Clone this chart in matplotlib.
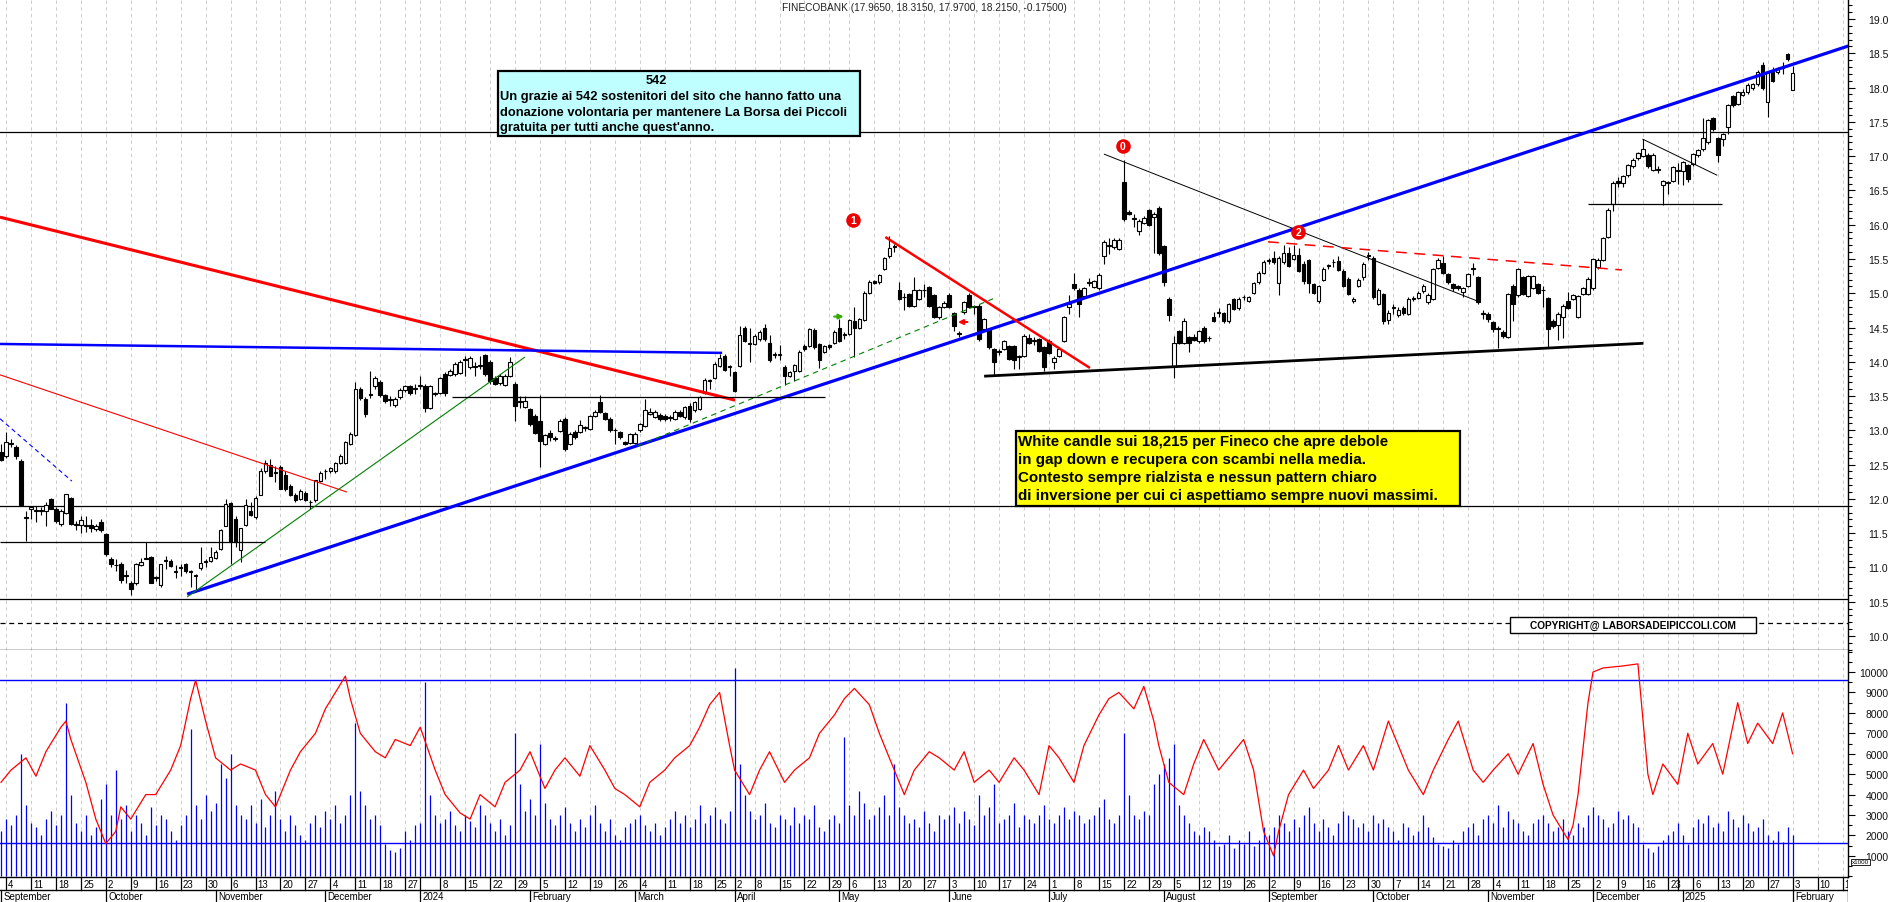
import matplotlib

matplotlib.use("Agg")
import matplotlib.pyplot as plt
import numpy as np
import pandas as pd
from matplotlib.patches import Rectangle
from matplotlib.ticker import FixedLocator, MultipleLocator

plt.rcParams["font.family"] = ["Liberation Sans", "DejaVu Sans"]

W, H = 1890, 903

TITLE = "FINECOBANK (17.9650, 18.3150, 17.9700, 18.2150, -0.17500)"
FIRST_DAY = "2023-09-01"
LAST_AXIS_DAY = "2025-02-21"
HOLIDAYS = [
    "2023-12-25", "2023-12-26", "2024-01-01", "2024-03-29", "2024-04-01",
    "2024-05-01", "2024-08-15", "2024-12-24", "2024-12-25", "2024-12-26",
    "2024-12-31", "2025-01-01",
]

# daily candles, first one is 1 Sep 2023 (x = -1), Sep 4 2023 is x = 0
OPENS = [
    12.68, 12.63, 12.80, 12.75, 12.56, 11.72, 11.85, 11.83, 11.82, 11.83,
    12.00, 11.85, 11.63, 11.80, 12.01, 11.62, 11.62, 11.61, 11.62, 11.56,
    11.67, 11.49, 11.12, 11.03, 11.05, 10.88, 10.78, 10.78, 11.04, 11.13,
    11.15, 10.85, 10.75, 11.10, 11.09, 10.93, 10.99, 11.05, 10.93, 10.87,
    10.99, 11.08, 11.10, 11.14, 11.27, 11.61, 11.94, 11.71, 11.26, 11.62,
    11.83, 11.73, 12.06, 12.40, 12.49, 12.38, 12.46, 12.35, 12.19, 12.05,
    12.00, 12.09, 11.95, 11.98, 12.26, 12.40, 12.40, 12.40, 12.53, 12.53,
    12.80, 12.93, 13.61, 13.46, 13.52, 13.64, 13.71, 13.51, 13.44, 13.37,
    13.48, 13.59, 13.64, 13.60, 13.65, 13.65, 13.33, 13.53, 13.55,
    13.82, 13.81, 13.82, 13.84, 14.03, 13.93, 13.92, 13.94, 14.10, 14.00,
    13.77, 13.69, 13.66, 13.80, 13.68, 13.41, 13.34, 13.31, 13.21, 13.14,
    12.80, 12.96, 12.88, 12.99, 13.17, 12.80, 12.98, 12.98, 13.03, 13.02,
    13.21, 13.41, 13.25, 13.17, 13.00, 12.97, 12.83, 12.82, 12.82, 13.00,
    13.07, 13.24, 13.20, 13.23, 13.21, 13.18, 13.17, 13.27, 13.19, 13.35,
    13.29, 13.31, 13.55, 13.72, 13.77, 13.94, 14.09, 13.92, 13.85, 13.94,
    14.50, 14.26, 14.26, 14.33, 14.50, 14.27, 14.10, 14.10, 13.92, 13.80,
    13.86, 13.87, 14.23, 14.23, 14.47, 14.26, 14.15, 14.24, 14.28, 14.50,
    14.39, 14.41, 14.60, 14.50, 14.61, 15.01, 15.18, 15.16, 15.36, 15.54,
    15.67, 15.05,
    14.94, 14.99, 14.82, 14.92, 15.04, 15.09, 14.97, 14.65, 14.80, 14.98,
    14.71, 14.41, 14.72, 14.98, 14.80, 14.82, 14.48, 14.48, 14.18, 14.15,
    14.19, 14.23, 14.23, 14.07, 14.09, 14.34, 14.30, 14.33, 14.21, 14.31,
    14.00, 14.09, 14.31, 14.80, 15.14, 15.05, 14.96, 15.15, 15.09, 15.07,
    15.55, 15.69, 15.67, 15.65, 16.62, 16.19, 16.09, 15.91, 16.03, 16.21,
    16.11, 16.25, 15.69, 14.92, 13.94, 14.45, 14.28, 14.36, 14.36, 14.30,
    14.50, 14.34, 14.66, 14.71, 14.71, 14.59, 14.91, 14.78, 14.94, 14.89,
    15.01, 15.16, 15.30, 15.47, 15.52, 15.15, 15.45, 15.59, 15.50, 15.56,
    15.43, 15.48, 15.13, 14.88, 15.20, 15.40, 15.45, 15.47, 15.33, 15.21,
    14.88, 15.11,
    15.23, 15.55, 15.52, 14.85, 14.99, 14.61, 14.79, 14.68, 14.79, 14.70,
    14.92, 14.93, 15.03, 14.87, 14.92, 15.37, 15.44, 15.28, 15.13, 15.10,
    15.02, 15.11, 15.35, 15.23, 14.70, 14.70, 14.58, 14.48, 14.44, 14.36,
    15.11, 14.97, 15.23, 14.96, 15.08, 15.13, 15.04, 14.93, 14.60, 14.54,
    14.66, 14.89, 14.92, 14.66, 14.99, 14.99, 15.07, 15.38, 15.49, 15.82,
    16.30, 16.64, 16.61, 16.72, 16.85, 16.97, 17.00, 17.02, 16.80, 16.80,
    16.58, 16.61, 16.64, 16.79, 16.79, 16.87, 16.88, 17.01, 17.10, 17.20,
    17.55, 17.26, 17.25, 17.43, 17.87, 17.76, 17.89, 17.93, 17.99, 18.05,
    18.33, 17.79, 18.23, 18.22, 18.29, 18.49, 17.965,
]
HIGHS = [
    12.80, 12.97, 12.87, 12.78, 12.58, 11.83, 11.90, 11.90, 11.88, 11.95,
    12.02, 11.88, 11.85, 12.07, 12.03, 11.68, 11.75, 11.75, 11.70, 11.64,
    11.70, 11.50, 11.15, 11.13, 11.08, 10.97, 10.80, 11.06, 11.14, 11.37,
    11.17, 10.88, 11.05, 11.17, 11.12, 11.03, 11.05, 11.07, 10.96, 10.90,
    11.30, 11.13, 11.30, 11.25, 11.56, 12.00, 11.96, 11.75, 11.57, 12.00,
    11.95, 12.04, 12.45, 12.57, 12.58, 12.48, 12.50, 12.40, 12.22, 12.08,
    12.14, 12.12, 11.98, 12.28, 12.40, 12.44, 12.47, 12.54, 12.66, 12.85,
    12.97, 13.70, 13.63, 13.48, 13.87, 13.79, 13.73, 13.53, 13.50, 13.48,
    13.62, 13.66, 13.66, 13.68, 13.80, 13.67, 13.66, 13.56, 13.78,
    13.85, 13.90, 13.99, 14.02, 14.09, 14.09, 13.99, 14.09, 14.12, 14.02,
    13.80, 13.82, 13.82, 14.07, 13.70, 13.50, 13.50, 13.33, 13.24, 13.51,
    12.95, 13.00, 12.92, 13.16, 13.19, 12.97, 13.00, 13.15, 13.06, 13.23,
    13.29, 13.51, 13.27, 13.19, 13.03, 12.99, 12.85, 12.96, 12.97, 13.11,
    13.45, 13.32, 13.30, 13.26, 13.24, 13.22, 13.29, 13.30, 13.36, 13.40,
    13.43, 13.50, 13.77, 13.75, 13.99, 14.12, 14.11, 13.95, 13.87, 14.52,
    14.52, 14.50, 14.40, 14.46, 14.55, 14.39, 14.14, 14.24, 13.95, 13.87,
    13.97, 14.17, 14.26, 14.50, 14.49, 14.28, 14.25, 14.26, 14.46, 14.62,
    14.43, 14.63, 14.80, 14.64, 15.03, 15.19, 15.20, 15.28, 15.53, 15.84,
    15.72, 15.17,
    15.00, 15.01, 15.23, 15.06, 15.14, 15.11, 14.99, 14.82, 14.88, 15.00,
    14.73, 14.45, 14.89, 15.00, 14.83, 14.84, 14.64, 14.50, 14.20, 14.19,
    14.32, 14.25, 14.25, 14.10, 14.40, 14.40, 14.36, 14.35, 14.23, 14.33,
    14.08, 14.21, 14.67, 14.97, 15.29, 15.07, 15.09, 15.22, 15.20, 15.29,
    15.77, 15.81, 15.80, 15.80, 16.94, 16.22, 16.15, 16.08, 16.12, 16.23,
    16.18, 16.27, 15.71, 14.94, 14.37, 14.47, 14.64, 14.38, 14.40, 14.47,
    14.52, 14.38, 14.72, 14.78, 14.73, 14.86, 14.93, 14.94, 14.98, 14.96,
    15.17, 15.32, 15.48, 15.52, 15.62, 15.54, 15.71, 15.68, 15.71, 15.66,
    15.47, 15.50, 15.15, 15.12, 15.38, 15.42, 15.50, 15.55, 15.35, 15.23,
    14.94, 15.22,
    15.45, 15.60, 15.55, 15.07, 15.01, 14.75, 14.85, 14.80, 14.82, 14.94,
    14.96, 15.03, 15.13, 15.00, 15.37, 15.51, 15.55, 15.30, 15.15, 15.12,
    15.09, 15.30, 15.44, 15.25, 14.76, 14.72, 14.60, 14.52, 14.46, 15.01,
    15.13, 15.37, 15.25, 15.27, 15.27, 15.15, 15.10, 14.95, 14.62, 14.72,
    14.84, 15.02, 14.99, 14.98, 15.09, 15.23, 15.52, 15.51, 15.82, 16.24,
    16.63, 16.70, 16.73, 16.89, 16.97, 17.06, 17.25, 17.04, 17.04, 16.85,
    16.65, 16.64, 16.86, 16.90, 16.93, 16.89, 17.05, 17.11, 17.55, 17.54,
    17.57, 17.28, 17.34, 17.76, 17.89, 17.95, 17.98, 18.06, 18.07, 18.25,
    18.37, 18.24, 18.30, 18.30, 18.38, 18.51, 18.315,
]
LOWS = [
    12.55, 12.60, 12.75, 12.58, 11.91, 11.39, 11.71, 11.67, 11.76, 11.60,
    11.85, 11.65, 11.60, 11.78, 11.62, 11.54, 11.50, 11.52, 11.52, 11.53,
    11.52, 11.17, 11.00, 10.95, 10.78, 10.78, 10.60, 10.75, 11.02, 11.12,
    10.78, 10.80, 10.72, 10.98, 11.00, 10.85, 10.88, 10.92, 10.71, 10.66,
    10.97, 11.00, 11.08, 11.12, 11.25, 11.60, 11.05, 11.30, 11.08, 11.60,
    11.75, 11.71, 12.05, 12.38, 12.33, 12.25, 12.14, 12.12, 12.04, 11.96,
    11.98, 11.97, 11.85, 11.96, 12.24, 12.29, 12.38, 12.38, 12.51, 12.51,
    12.78, 12.92, 13.44, 13.20, 13.47, 13.60, 13.49, 13.40, 13.36, 13.34,
    13.46, 13.56, 13.52, 13.53, 13.60, 13.27, 13.31, 13.50, 13.53,
    13.50, 13.79, 13.80, 13.82, 13.80, 13.90, 13.80, 13.89, 13.80, 13.68,
    13.66, 13.66, 13.64, 13.78, 13.14, 13.33, 13.33, 13.07, 12.94, 12.46,
    12.78, 12.85, 12.84, 12.97, 12.70, 12.78, 12.88, 12.96, 12.99, 13.00,
    13.19, 13.25, 13.15, 12.98, 12.80, 12.88, 12.78, 12.80, 12.80, 12.98,
    13.05, 13.22, 13.18, 13.14, 13.14, 13.14, 13.15, 13.19, 13.17, 13.12,
    13.27, 13.29, 13.53, 13.60, 13.75, 13.92, 13.86, 13.80, 13.56, 13.92,
    14.29, 13.99, 14.24, 14.31, 14.31, 14.00, 14.05, 14.02, 13.66, 13.78,
    13.72, 13.85, 14.16, 14.21, 14.19, 13.91, 14.13, 14.19, 14.26, 14.29,
    14.33, 14.39, 14.07, 14.48, 14.59, 14.99, 15.13, 15.14, 15.34, 15.52,
    15.60, 14.90,
    14.75, 14.80, 14.80, 14.90, 14.94, 14.80, 14.64, 14.63, 14.78, 14.78,
    14.45, 14.36, 14.70, 14.78, 14.70, 14.31, 14.46, 14.19, 13.81, 14.10,
    14.17, 14.02, 13.90, 13.90, 14.07, 14.26, 14.24, 14.14, 13.86, 14.11,
    13.90, 14.07, 14.29, 14.70, 15.05, 14.66, 14.94, 15.10, 15.07, 15.05,
    15.43, 15.57, 15.65, 15.63, 16.06, 16.14, 15.96, 15.85, 16.01, 15.98,
    15.58, 15.56, 15.10, 14.59, 13.77, 14.26, 14.26, 14.15, 14.30, 14.28,
    14.28, 14.30, 14.58, 14.65, 14.57, 14.57, 14.75, 14.76, 14.90, 14.87,
    14.99, 15.14, 15.28, 15.42, 15.43, 14.98, 15.43, 15.38, 15.48, 15.31,
    15.14, 15.01, 14.99, 14.86, 15.18, 15.35, 15.38, 15.32, 15.09, 14.97,
    14.86, 15.09,
    15.20, 15.48, 14.92, 14.83, 14.55, 14.55, 14.70, 14.65, 14.68, 14.68,
    14.88, 14.91, 15.01, 14.85, 14.90, 15.35, 15.28, 15.14, 15.03, 15.05,
    14.95, 15.09, 15.27, 14.85, 14.62, 14.58, 14.44, 14.20, 14.35, 14.34,
    14.60, 14.95, 14.97, 14.94, 15.06, 14.99, 14.80, 14.20, 14.50, 14.32,
    14.34, 14.77, 14.90, 14.64, 14.97, 14.97, 15.05, 15.36, 15.47, 15.80,
    16.20, 16.55, 16.55, 16.70, 16.83, 16.95, 16.98, 16.83, 16.78, 16.75,
    16.28, 16.45, 16.62, 16.60, 16.58, 16.62, 16.86, 16.99, 17.08, 17.18,
    17.37, 16.92, 17.15, 17.32, 17.72, 17.74, 17.87, 17.91, 17.97, 18.03,
    17.97, 17.57, 18.08, 18.20, 18.20, 18.39, 17.965,
]
CLOSES = [
    12.57, 12.83, 12.80, 12.62, 11.91, 11.73, 11.88, 11.83, 11.82, 11.91,
    11.85, 11.68, 11.83, 12.07, 11.63, 11.62, 11.69, 11.61, 11.58, 11.61,
    11.54, 11.20, 11.05, 11.03, 10.81, 10.88, 10.69, 11.05, 11.08, 11.13,
    10.78, 10.85, 11.05, 11.10, 11.02, 10.93, 10.99, 10.95, 10.93, 10.89,
    11.06, 11.08, 11.15, 11.23, 11.54, 11.93, 11.37, 11.37, 11.57, 11.91,
    11.77, 12.02, 12.40, 12.53, 12.34, 12.38, 12.14, 12.14, 12.05, 11.99,
    12.12, 11.99, 11.95, 12.27, 12.38, 12.40, 12.45, 12.52, 12.63, 12.83,
    12.95, 13.61, 13.47, 13.24, 13.52, 13.77, 13.51, 13.43, 13.44, 13.46,
    13.59, 13.64, 13.54, 13.60, 13.65, 13.33, 13.65, 13.53, 13.76,
    13.54, 13.87, 13.97, 13.99, 14.03, 14.05, 13.92, 13.94, 13.82, 13.72,
    13.68, 13.79, 13.80, 13.99, 13.36, 13.41, 13.43, 13.09, 12.96, 12.85,
    12.93, 12.91, 12.88, 13.14, 12.73, 12.95, 12.90, 13.08, 13.03, 13.21,
    13.27, 13.27, 13.17, 13.00, 13.00, 12.90, 12.80, 12.94, 12.95, 13.09,
    13.29, 13.27, 13.27, 13.16, 13.16, 13.18, 13.27, 13.21, 13.34, 13.16,
    13.41, 13.48, 13.74, 13.72, 13.97, 14.06, 13.88, 13.92, 13.58, 14.39,
    14.31, 14.26, 14.38, 14.44, 14.33, 14.02, 14.10, 14.10, 13.80, 13.85,
    13.95, 14.15, 14.18, 14.48, 14.21, 14.02, 14.23, 14.21, 14.44, 14.31,
    14.39, 14.61, 14.50, 14.62, 15.01, 15.17, 15.15, 15.26, 15.51, 15.66,
    15.67, 14.92,
    14.94, 14.82, 15.04, 15.04, 15.04, 14.82, 14.66, 14.80, 14.86, 14.80,
    14.52, 14.41, 14.87, 14.80, 14.80, 14.33, 14.62, 14.21, 13.99, 14.15,
    14.30, 14.04, 14.03, 14.07, 14.38, 14.28, 14.32, 14.16, 13.92, 14.13,
    14.06, 14.19, 14.65, 14.84, 15.07, 14.84, 15.07, 15.15, 15.18, 15.27,
    15.75, 15.69, 15.77, 15.77, 16.08, 16.16, 16.09, 16.06, 16.10, 16.00,
    16.16, 15.58, 15.17, 14.68, 14.27, 14.28, 14.59, 14.28, 14.32, 14.45,
    14.30, 14.34, 14.60, 14.71, 14.59, 14.84, 14.77, 14.92, 14.94, 14.94,
    15.15, 15.30, 15.46, 15.47, 15.45, 15.52, 15.59, 15.40, 15.56, 15.33,
    15.18, 15.15, 15.01, 15.10, 15.36, 15.40, 15.45, 15.34, 15.11, 14.99,
    14.92, 15.20,
    15.43, 15.55, 14.94, 15.05, 14.60, 14.71, 14.79, 14.76, 14.71, 14.92,
    14.93, 15.01, 15.11, 14.97, 15.35, 15.49, 15.30, 15.16, 15.07, 15.07,
    15.07, 15.28, 15.35, 14.87, 14.70, 14.62, 14.48, 14.48, 14.37, 14.99,
    14.84, 15.35, 14.99, 15.25, 15.25, 15.01, 15.04, 14.48, 14.52, 14.70,
    14.82, 14.79, 14.97, 14.96, 15.07, 15.21, 15.50, 15.49, 15.80, 16.22,
    16.61, 16.61, 16.71, 16.87, 16.95, 17.04, 17.10, 16.85, 17.02, 16.80,
    16.63, 16.61, 16.84, 16.79, 16.91, 16.67, 17.03, 17.09, 17.27, 17.52,
    17.39, 17.02, 17.32, 17.74, 17.74, 17.93, 17.93, 18.04, 18.05, 18.23,
    17.99, 18.22, 18.10, 18.28, 18.29, 18.41, 18.215,
]

# daily volume in thousands of shares
VOLUMES = [
    2.2, 2.8, 2.5, 3.0, 6.0, 3.5, 2.6, 2.4, 2.0, 2.8, 3.2, 2.5, 3.0, 8.5, 4.0, 2.6, 2.2, 3.0, 2.0, 2.4, 3.8,
    4.5, 3.0, 5.2, 2.8, 3.5, 2.2, 3.0, 2.6, 2.0, 3.4, 2.5, 3.0, 2.8, 2.2, 1.8, 2.5, 3.0, 7.2, 3.5, 2.8, 4.0, 3.2,
    3.6, 5.5, 4.8, 6.0, 3.5, 3.0, 2.8, 3.5, 2.6, 3.8, 2.4, 3.0, 4.2, 2.8, 2.2, 3.0, 2.5, 2.0, 1.8, 2.6, 3.0, 2.4,
    3.2, 2.8, 3.5, 2.6, 3.0, 4.0, 7.5, 4.2, 3.5, 2.8, 3.0, 2.5, 1.6, 1.3, 1.2, 1.4, 2.2, 1.8, 2.5,
    2.6, 9.5, 4.0, 3.0, 2.6, 2.8, 3.2, 2.5, 2.2, 3.0, 2.7, 2.4, 3.5, 3.0, 2.6, 2.2, 2.8, 2.0, 2.5, 7.0, 4.5, 3.2,
    3.8, 3.0, 6.5, 3.6, 2.8, 2.5, 3.0, 3.4, 2.6, 2.2, 2.8, 2.4, 3.0, 3.5, 2.6, 2.2, 2.8, 2.0, 1.8, 2.4, 2.6,
    2.8, 3.0, 2.5, 2.2, 2.6, 2.0, 2.4, 2.8, 3.2, 2.6, 3.0, 2.4, 2.8, 3.5, 2.6, 3.0, 3.4, 2.8, 2.6, 3.2,
    10.2, 5.5, 4.0, 3.2, 2.8, 3.0, 3.6, 2.6, 2.4, 3.0, 2.8, 2.5, 3.4, 2.6, 3.0, 2.8, 3.5, 2.4, 2.2, 2.8, 3.0,
    2.6, 6.8, 3.5, 3.0, 4.2, 3.6, 2.8, 3.0, 3.4, 4.0, 3.0, 5.5, 3.4, 3.0, 2.6, 2.8, 2.4, 3.2, 2.6, 2.2, 3.0, 2.8,
    3.0, 3.4, 2.6, 3.2, 2.8, 2.5, 4.0, 3.0, 3.4, 4.5, 2.6, 2.8, 3.0, 3.6, 2.4, 3.0, 2.8, 2.6, 3.0, 3.5,
    2.8, 2.6, 3.0, 3.4, 2.8, 3.2, 3.0, 2.6, 2.8, 3.0, 3.4, 3.8, 2.8, 2.6, 3.0, 7.0, 4.0, 3.0, 2.8, 3.2, 3.0, 4.5, 5.0,
    5.5, 5.8, 6.5, 3.5, 3.0, 2.6, 2.2, 2.0, 2.4, 2.2, 1.8, 1.5, 1.6, 2.0, 1.4, 1.8, 1.6, 2.2, 1.5, 1.8, 2.4,
    2.0, 2.4, 3.0, 2.6, 2.2, 2.8, 2.4, 3.0, 3.4, 2.6, 2.2, 2.8, 2.4, 2.0, 2.6, 3.2, 3.0, 2.8, 2.4, 2.6, 2.2,
    3.0, 2.6, 2.8, 2.4, 2.2, 1.8, 2.6, 2.4, 2.0, 2.2, 3.0, 2.4, 1.9, 1.6, 1.5, 1.4, 1.8, 1.6, 2.2, 2.4, 2.6, 2.0, 2.8,
    3.0, 2.6, 3.5, 2.4, 3.2, 2.8, 2.6, 2.2, 2.0, 2.6, 2.8, 3.0, 2.6, 2.2, 2.4, 2.8, 2.2, 2.0, 2.6, 2.4, 3.0,
    3.4, 3.0, 2.8, 2.4, 2.6, 3.2, 2.8, 3.0, 2.6, 2.4, 1.6, 1.4, 1.2, 1.5, 1.8, 2.0, 2.2, 2.6,
    2.0, 1.6, 2.4, 2.8, 2.6, 3.0, 2.4, 2.6, 2.2, 3.2, 2.8, 2.4, 3.0, 2.6, 2.2, 2.4, 2.8, 2.0, 1.8, 2.2, 1.7, 2.4, 2.0,
]

# red volume oscillator, read at these day positions (thousands)
OSC_DAYS = [
    -1, 1, 4, 6, 8, 11, 12, 13, 16, 18, 20, 22, 23, 25, 28, 30, 33, 35, 37, 38,
    40, 42, 45, 47, 50, 52, 54, 57, 59, 62, 64, 68, 69, 71, 74, 76, 78, 81, 83, 86,
    88, 91, 93, 95, 98, 100, 103, 105, 108, 110, 112, 115, 117, 120, 122, 124, 127, 129, 132, 134,
    137, 139, 141, 143, 145, 146, 149, 151, 153, 156, 158, 161, 163, 166, 168, 170, 173, 175, 178, 180,
    182, 185, 187, 190, 192, 194, 197, 199, 202, 204, 207, 209, 211, 214, 216, 219, 221, 223, 226, 228,
    230, 231, 233, 236, 238, 240, 243, 245, 248, 250, 252, 254, 255, 257, 260, 262, 265, 267, 269, 272,
    274, 277, 279, 281, 284, 286, 289, 291, 294, 296, 298, 301, 303, 306, 308, 310, 313, 314, 315, 317,
    318, 320, 324, 327, 329, 330, 332, 335, 337, 339, 342, 344, 347, 349, 351, 354, 356, 358,
]
OSC_VALUES = [
    4.6, 5.2, 5.8, 4.9, 6.1, 7.3, 7.6, 6.7, 4.6, 2.8, 1.6, 2.2, 3.4, 2.8, 4.0, 4.0, 5.2, 6.4, 8.7, 9.6,
    7.6, 5.8, 5.2, 5.5, 5.2, 4.0, 3.4, 5.2, 6.1, 7.0, 8.2, 9.8, 8.7, 7.0, 6.1, 5.8, 6.7, 6.4, 7.3, 5.2,
    4.0, 3.1, 2.8, 4.0, 3.4, 4.6, 5.2, 6.1, 4.3, 5.2, 5.8, 4.9, 6.4, 5.2, 4.3, 4.0, 3.4, 4.6, 5.2, 5.8,
    6.4, 7.3, 8.4, 9.0, 6.4, 5.2, 4.0, 5.2, 6.1, 4.6, 5.2, 5.8, 7.0, 7.9, 8.7, 9.2, 8.4, 7.0, 5.2, 4.0,
    5.2, 6.1, 5.8, 5.2, 6.1, 4.6, 5.2, 4.6, 5.8, 5.2, 4.0, 6.4, 5.8, 4.6, 6.4, 7.9, 8.7, 9.0, 8.2, 9.3,
    7.6, 6.4, 4.6, 4.0, 5.5, 6.7, 5.2, 5.8, 6.7, 5.2, 2.2, 1.0, 2.2, 4.0, 5.2, 4.3, 5.2, 6.4, 5.2, 6.4,
    5.2, 7.6, 6.4, 5.2, 4.0, 5.2, 6.7, 7.6, 5.2, 4.6, 5.2, 6.0, 5.0, 6.5, 4.5, 3.0, 1.8, 2.5, 4.0, 8.5,
    10.0, 10.2, 10.3, 10.4, 5.0, 4.0, 5.5, 4.5, 7.0, 5.5, 6.5, 5.0, 8.5, 6.5, 7.5, 6.5, 8.0, 6.0,
]
VOLUME_LEVELS = [9.6, 1.65]

# price levels drawn across the whole chart
FULL_LEVELS = [17.35, 11.90, 10.54]
DASHED_LEVEL = 10.19

# trend lines: (day from, price from, day to, price to, colour, width, style)
TRENDLINES = [
    (-1.2, 16.11, 146.1, 13.44, "#ff0000", 2.2, "-"),
    (-1.2, 13.81, 68.3, 12.10, "#ff0000", 0.8, "-"),
    (-1.2, 13.17, 13.2, 12.26, "#0000ff", 0.8, (0, (4, 3))),
    (-1.2, 14.26, 143.5, 14.13, "#0000ff", 1.8, "-"),
    (36.3, 10.61, 369.3, 18.61, "#0000ff", 2.3, "-"),
    (36.3, 10.57, 104.0, 14.07, "#008000", 0.8, "-"),
    (126.5, 12.77, 197.8, 14.92, "#008000", 0.8, (0, (5, 4))),
    (176.2, 15.82, 217.2, 13.91, "#ff0000", 1.8, "-"),
    (220.0, 17.03, 295.4, 14.87, "black", 0.7, "-"),
    (252.9, 15.75, 323.8, 15.34, "#ff0000", 1.1, (0, (7, 5))),
    (196.0, 13.79, 328.1, 14.27, "black", 2.0, "-"),
    (317.0, 16.30, 343.9, 16.30, "black", 0.9, "-"),
    (327.9, 17.25, 342.9, 16.72, "black", 0.7, "-"),
    (89.4, 13.49, 164.1, 13.49, "black", 0.9, "-"),
    (-1.2, 11.37, 51.9, 11.37, "black", 0.9, "-"),
]
MARKER_DAYS = [169.8, 223.8, 258.9]
MARKER_PRICES = [16.07, 17.15, 15.89]
MARKER_TEXT = ["1", "0", "2"]

INFO_LINES = [
    "Un grazie ai 542 sostenitori del sito che hanno fatto una",
    "donazione volontaria per mantenere La Borsa dei Piccoli",
    "gratuita per tutti anche quest'anno.",
]
NOTE_LINES = [
    "White candle sui 18,215 per Fineco che apre debole",
    "in gap down e recupera con scambi nella media.",
    "Contesto sempre rialzista e nessun pattern chiaro",
    "di inversione per cui ci aspettiamo sempre nuovi massimi.",
]
MONTH_NAMES = {1: None, 2: "February", 3: "March", 4: "April", 5: "May", 6: "June",
               7: "July", 8: "August", 9: "September", 10: "October",
               11: "November", 12: "December"}

XLIM = (-1.2, 369.1)


def fx(px):
    """Pixel x to figure fraction."""
    return px / W


def fy(py):
    """Pixel y (from top) to figure fraction."""
    return 1 - py / H


def trading_days():
    """Weekdays without exchange holidays, with their chart position."""
    days = pd.bdate_range(FIRST_DAY, LAST_AXIS_DAY)
    days = days[~days.isin(pd.to_datetime(HOLIDAYS))]
    pos = np.arange(len(days)) - 1
    return days, pos


def week_and_month_starts(days, pos):
    """Positions of first trading day of each week and month."""
    week = np.asarray((days - days[0]).days + days[0].weekday()) // 7
    month = np.asarray(days.year * 12 + days.month)
    wk_first = np.r_[True, week[1:] != week[:-1]]
    mo_first = np.r_[True, month[1:] != month[:-1]]
    weeks = [(p, d) for p, d, f in zip(pos, days, wk_first) if f and p >= 0]
    months = [(p, d) for p, d, f in zip(pos, days, mo_first) if f]
    return weeks, months


def draw_candles(ax):
    """Candlesticks: white up, black down."""
    n = min(len(OPENS), len(HIGHS), len(LOWS), len(CLOSES))
    x = np.arange(n) - 1
    o = np.array(OPENS[:n])
    h = np.array(HIGHS[:n])
    l = np.array(LOWS[:n])
    c = np.array(CLOSES[:n])
    ax.vlines(x, l, h, colors="black", linewidth=0.8, zorder=3)
    bottom = np.minimum(o, c)
    height = np.maximum(np.abs(c - o), 0.012)
    face = np.where(c >= o, "white", "black")
    ax.bar(x, height, width=0.72, bottom=bottom, color=face, edgecolor="black",
           linewidth=0.8, zorder=4)


def style_right_axis(ax, ticks, labels, minor):
    """Right-hand axis with right-aligned labels."""
    ax.yaxis.tick_right()
    ax.yaxis.set_major_locator(FixedLocator(ticks))
    ax.yaxis.set_minor_locator(MultipleLocator(minor))
    ax.set_yticklabels(labels, ha="right")
    ax.tick_params(axis="y", which="major", length=5, width=0.8, pad=24,
                   labelsize=7.5, labelcolor="#111111", direction="out")
    ax.tick_params(axis="y", which="minor", length=3, width=0.8, direction="out")
    ax.tick_params(axis="x", which="both", bottom=False, labelbottom=False)
    for side in ("left", "top"):
        ax.spines[side].set_visible(False)
    ax.spines["right"].set_linewidth(1.0)
    ax.spines["bottom"].set_linewidth(1.0)


def main():
    """Main."""
    days, pos = trading_days()
    weeks, months = week_and_month_starts(days, pos)

    fig = plt.figure(figsize=(W / 100, H / 100), dpi=100)
    right = 1848 / W
    ax = fig.add_axes([0, fy(651), right, 651 / H])
    axv = fig.add_axes([0, fy(878), right, (878 - 651) / H])
    axd = fig.add_axes([0, 0, right, 25 / H])

    for a in (ax, axv):
        a.set_xlim(*XLIM)
        for p, _ in weeks:
            a.axvline(p, color="#c4c4c4", linewidth=0.6, linestyle=(0, (4, 4)), zorder=0)

    # price panel
    ax.set_ylim(9.796, 19.292)
    draw_candles(ax)
    for level in FULL_LEVELS:
        ax.axhline(level, color="black", linewidth=0.9, zorder=2)
    ax.axhline(DASHED_LEVEL, color="black", linewidth=0.9, linestyle=(0, (4, 3)), zorder=2)
    for x0, y0, x1, y1, color, lw, ls in TRENDLINES:
        ax.plot([x0, x1], [y0, y1], color=color, linewidth=lw, linestyle=ls, zorder=5,
                solid_capstyle="butt")
    ax.scatter(MARKER_DAYS, MARKER_PRICES, s=110, color="#ee0000", zorder=6, linewidths=0)
    for mx, my, txt in zip(MARKER_DAYS, MARKER_PRICES, MARKER_TEXT):
        ax.text(mx, my, txt, color="white", fontsize=7.5, fontweight="bold",
                ha="center", va="center", zorder=7)
    ax.annotate("", xy=(168.4, 14.66), xytext=(165.4, 14.66), zorder=7,
                arrowprops=dict(arrowstyle="-|>", color="#33aa00", lw=1.5, mutation_scale=7))
    ax.annotate("", xy=(190.2, 14.58), xytext=(193.2, 14.58), zorder=7,
                arrowprops=dict(arrowstyle="-|>", color="#ff0000", lw=1.5, mutation_scale=7))
    price_ticks = np.arange(10.0, 19.01, 0.5)
    style_right_axis(ax, price_ticks, [f"{v:.1f}" for v in price_ticks], 0.1)

    # volume panel
    nv = len(VOLUMES)
    axv.set_ylim(-0.035, 11.08)
    axv.vlines(np.arange(nv) - 1, 0, VOLUMES, colors="#0000ff", linewidth=0.9, zorder=2)
    for level in VOLUME_LEVELS:
        axv.axhline(level, color="#0000ff", linewidth=1.0, zorder=3)
    axv.plot(OSC_DAYS, OSC_VALUES, color="#ff0000", linewidth=0.9, zorder=4)
    vol_ticks = np.arange(1, 10.5, 1.0)
    style_right_axis(axv, vol_ticks, [f"{int(v * 1000)}" for v in vol_ticks], 0.5)

    # date rows
    axd.set_xlim(*XLIM)
    axd.set_ylim(0, 25)
    axd.axis("off")
    axd.axhline(12, color="black", linewidth=1.0)
    axd.axvline(XLIM[1] - 0.1, color="black", linewidth=1.0)
    last_label = -99
    for p, d in weeks:
        axd.plot([p, p], [12, 25], color="black", linewidth=0.9)
        if p - last_label >= 4:
            axd.text(p + 0.45, 18.3, str(d.day), fontsize=7, ha="left", va="center",
                     clip_on=True)
            last_label = p
    for p, d in months:
        if d > pd.Timestamp("2025-02-05"):
            continue
        axd.plot([p, p], [0, 12], color="black", linewidth=0.9)
        name = MONTH_NAMES[d.month] or str(d.year)
        axd.text(p + 0.45, 5.6, name, fontsize=7, ha="left", va="center", clip_on=True)

    # texts
    fig.text(fx(924), fy(8), TITLE, fontsize=7.3, color="#222222", ha="center", va="center")

    fig.patches.append(Rectangle((fx(498), fy(137)), fx(860) - fx(498), fy(72) - fy(137),
                                 transform=fig.transFigure, facecolor="#c0ffff",
                                 edgecolor="black", linewidth=1.6, zorder=10))
    fig.text(fx(656), fy(81), "542", fontsize=9.2, fontweight="bold", ha="center",
             va="center", zorder=11)
    for k, line in enumerate(INFO_LINES):
        fig.text(fx(500), fy(97 + 15.7 * k), line, fontsize=9.3, fontweight="bold",
                 ha="left", va="center", zorder=11)

    fig.patches.append(Rectangle((fx(1016), fy(507)), fx(1460) - fx(1016), fy(432) - fy(507),
                                 transform=fig.transFigure, facecolor="#ffff00",
                                 edgecolor="black", linewidth=1.6, zorder=10))
    for k, line in enumerate(NOTE_LINES):
        fig.text(fx(1018), fy(442 + 18 * k), line, fontsize=10.9, fontweight="bold",
                 ha="left", va="center", zorder=11)

    fig.patches.append(Rectangle((fx(1510), fy(634)), fx(1756) - fx(1510), fy(618) - fy(634),
                                 transform=fig.transFigure, facecolor="white",
                                 edgecolor="black", linewidth=1.0, zorder=10))
    fig.text(fx(1633), fy(626), "COPYRIGHT@ LABORSADEIPICCOLI.COM", fontsize=7.3,
             fontweight="bold", ha="center", va="center", zorder=11)

    fig.text(fx(1852), fy(863), "x1000", fontsize=4.5, ha="left", va="center",
             bbox=dict(boxstyle="square,pad=0.15", facecolor="white", edgecolor="black",
                       linewidth=0.6))

    fig.savefig("out.png", dpi=100)
    plt.close(fig)


if __name__ == "__main__":
    main()
